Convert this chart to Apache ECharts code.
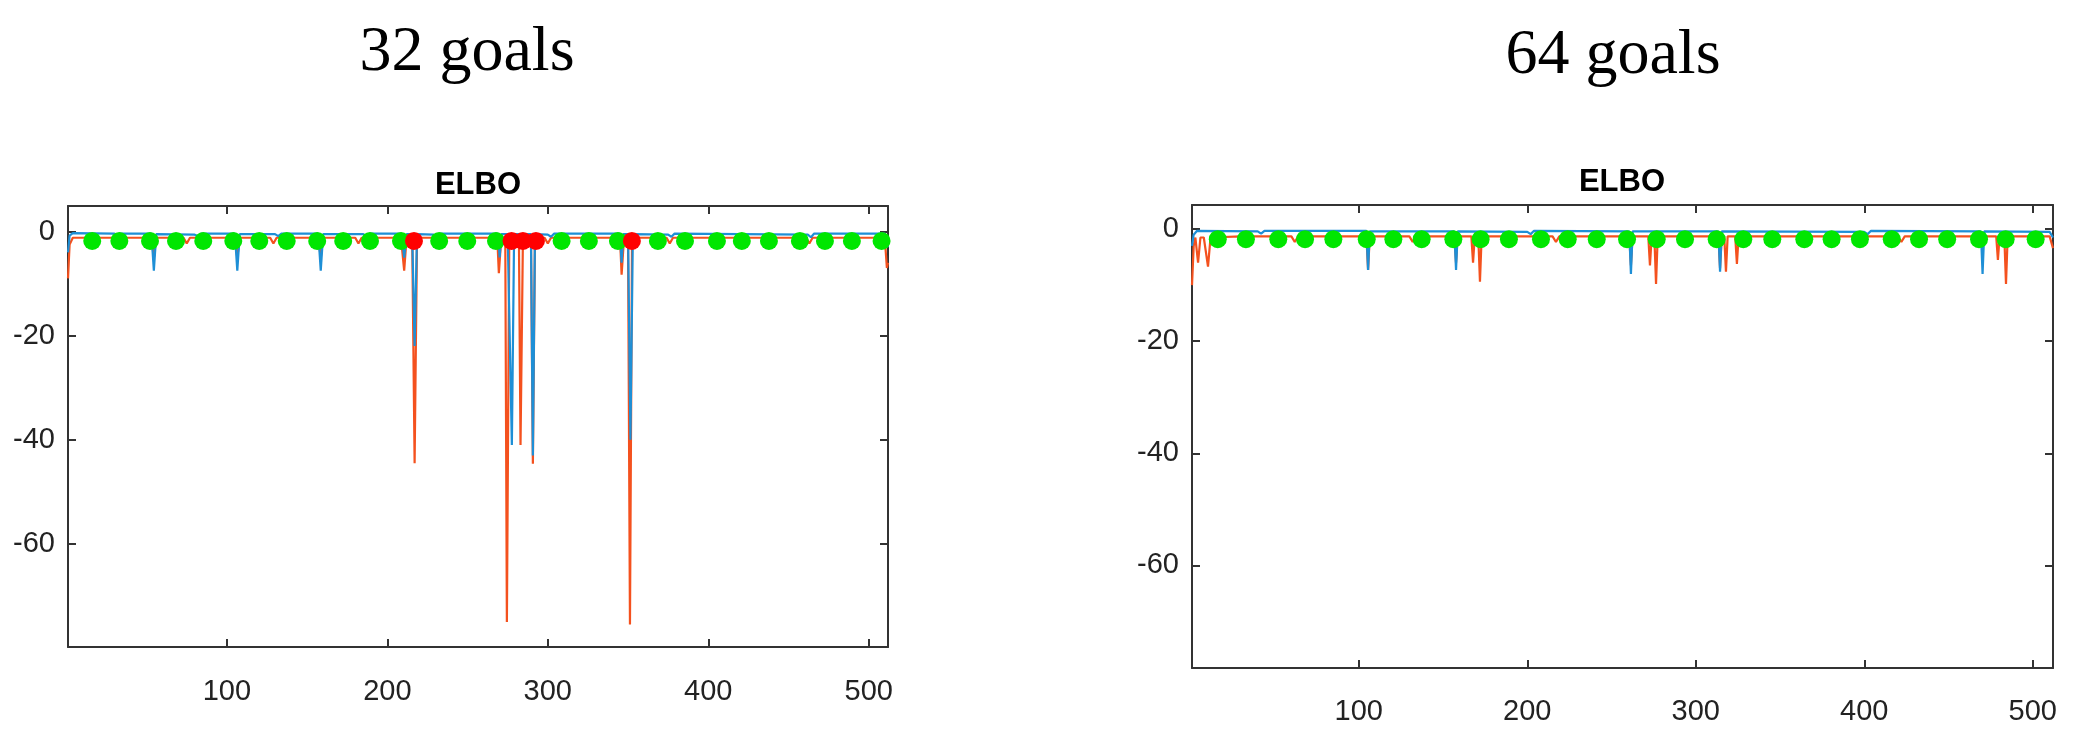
<!DOCTYPE html>
<html>
<head>
<meta charset="utf-8">
<script src="https://cdn.jsdelivr.net/npm/echarts@6/dist/echarts.min.js"></script>
<style>
html,body{margin:0;padding:0;background:#fff;}
#chart{width:2082px;height:750px;}
</style>
</head>
<body>
<div id="chart"></div>
<script>
// ---- data ----
const panelTitles = ['32 goals', '64 goals'];
const subTitle = 'ELBO';
const xTicks = [100, 200, 300, 400, 500];
const yTicks = [-60, -40, -20, 0];
const dotY = -1.8;

// 32 goals panel
const L_blue = [[1,-4],[2,-0.8],[4,-0.3],[30,-0.4],[31,-0.8],[33,-0.4],[53,-0.4],[54.5,-7.5],[56,-0.5],[80,-0.6],[82,-0.9],[84,-0.4],[105,-0.4],[106.5,-7.5],[108,-0.5],[130,-0.5],[132,-0.9],[134,-0.4],[157,-0.4],[158.5,-7.5],[160,-0.5],[185,-0.5],[187,-0.9],[189,-0.4],[209,-0.4],[210.5,-5],[212,-0.5],[215.5,-0.5],[217,-22],[218.5,-0.5],[229,-0.6],[231,-0.9],[233,-0.4],[269,-0.4],[270,-5],[271,-0.5],[275,-0.5],[277.6,-41],[279,-0.5],[289.5,-0.5],[290.7,-43],[292,-0.5],[300,-0.6],[302,-1.0],[304,-0.4],[345,-0.4],[346,-6],[347,-0.5],[350,-0.5],[351.5,-40],[353,-0.5],[375,-0.6],[377,-1.0],[379,-0.4],[462,-0.6],[464,-1.1],[466,-0.4],[510,-0.4],[512,-3]];
const L_orange = [[1,-9],[2,-2.5],[4,-1.2],[20,-1.2],[53,-1.2],[54.5,-5],[56,-1.2],[73,-1.2],[75,-2.3],[77,-1.2],[105,-1.2],[106.5,-5],[108,-1.2],[127,-1.2],[129,-2.3],[131,-1.2],[157,-1.2],[158.5,-5],[160,-1.2],[180,-1.2],[182,-2.3],[184,-1.2],[208.5,-1.2],[210.5,-7.5],[212,-1.2],[215.5,-1.2],[217,-44.5],[218.5,-1.2],[268.5,-1.2],[269.5,-8],[271,-1.2],[273.5,-1.2],[274.5,-75],[276,-1.2],[282,-1.2],[283,-41],[284.5,-1.2],[289.5,-1.2],[290.7,-44.6],[292,-1.2],[298,-1.2],[300,-2.3],[302,-1.2],[345,-1.2],[346,-8.3],[347.5,-1.2],[350,-1.2],[351.2,-75.5],[352.5,-1.2],[374,-1.2],[376,-2.3],[378,-1.2],[461,-1.2],[463,-2.3],[465,-1.2],[510,-1.2],[511.3,-7],[512,-6]];
const L_green = [16.1,33.0,52.1,68.3,85.3,104.0,120.2,137.3,156.3,172.5,189.2,208.5,232.3,249.8,267.7,308.6,325.6,343.7,368.6,385.5,405.4,420.9,437.8,457.1,472.7,489.5,508];
const L_red = [216.6,277.4,284.5,292.6,352.4];

// 64 goals panel
const R_blue = [[1,-3],[2,-1],[4,-0.3],[40,-0.4],[42,-0.8],[44,-0.3],[104.5,-0.3],[105.5,-7.3],[106.5,-0.4],[156.7,-0.4],[157.7,-7.3],[158.7,-0.4],[200,-0.5],[202,-0.9],[204,-0.3],[260.5,-0.4],[261.5,-8],[262.5,-0.4],[313.4,-0.4],[314.4,-7.6],[315.4,-0.4],[400,-0.5],[402,-0.9],[404,-0.3],[469.2,-0.4],[470.2,-8],[471.2,-0.4],[510,-0.5],[512,-1.5]];
const R_orange = [[1,-10],[2,-3],[3,-1.5],[4.6,-6],[6,-1.5],[8,-1.5],[10.5,-6.7],[12,-1.5],[30,-1.3],[32,-2.3],[34,-1.3],[60,-1.3],[62,-2.3],[64,-1.3],[104.5,-1.3],[105.5,-7.3],[106.5,-1.3],[130,-1.3],[132,-2.3],[134,-1.3],[156.7,-1.3],[157.7,-6],[158.7,-1.3],[166.8,-1.3],[167.8,-6],[168.8,-1.3],[170.9,-1.3],[171.9,-9.4],[172.9,-1.3],[215,-1.3],[217,-2.3],[219,-1.3],[260.5,-1.3],[261.5,-6.5],[262.5,-1.3],[271.8,-1.3],[272.8,-6.5],[273.8,-1.3],[275.4,-1.3],[276.4,-9.8],[277.4,-1.3],[313.4,-1.3],[314.4,-7],[315.4,-1.3],[316.9,-1.3],[317.9,-7.6],[318.9,-1.3],[323.4,-1.3],[324.4,-6.2],[325.4,-1.3],[360,-1.3],[362,-2.3],[364,-1.3],[420,-1.3],[422,-2.3],[424,-1.3],[478.3,-1.3],[479.3,-5.5],[480.3,-1.3],[483.1,-1.3],[484.1,-9.8],[485.1,-1.3],[510,-1.3],[512,-3.4]];
const R_green = [16.3,33.0,52.2,68.1,84.9,104.7,120.5,137.3,156.1,172.3,189.1,208.1,224.0,241.2,259.2,276.8,293.6,312.4,328.2,345.4,364.4,380.6,397.4,416.3,432.5,449.2,468.1,483.9,501.7];
const R_red = [];

// ---- chart ----
const axisColor = '#333333';
const labelFont = "'Liberation Sans', Arial, sans-serif";
const grids = [
  {left: 68, top: 206, width: 820, height: 441, ymin: -79.8, ymax: 4.9, xMargin: 30},
  {left: 1192, top: 205, width: 861, height: 463, ymin: -78.3, ymax: 4.3, xMargin: 29}
];
function xAx(gi, top) {
  return {
    type: 'value', gridIndex: gi, min: 1, max: 512, position: top ? 'top' : 'bottom',
    axisLine: {show: true, onZero: false, lineStyle: {color: axisColor, width: 2}},
    axisTick: {show: true, inside: true, length: 8, customValues: xTicks, lineStyle: {color: axisColor, width: 2}},
    axisLabel: {show: !top, customValues: xTicks, fontSize: 29, fontFamily: labelFont, color: '#222', margin: grids[gi].xMargin},
    splitLine: {show: false}
  };
}
function yAx(gi, right) {
  return {
    type: 'value', gridIndex: gi, min: grids[gi].ymin, max: grids[gi].ymax, position: right ? 'right' : 'left',
    axisLine: {show: true, onZero: false, lineStyle: {color: axisColor, width: 2}},
    axisTick: {show: true, inside: true, length: 8, customValues: yTicks, lineStyle: {color: axisColor, width: 2}},
    axisLabel: {show: !right, customValues: yTicks, fontSize: 29, fontFamily: labelFont, color: '#222', margin: 13},
    splitLine: {show: false}
  };
}
function lineS(idx, data, color, z) {
  return {type: 'line', xAxisIndex: idx * 2, yAxisIndex: idx * 2, data: data, showSymbol: false,
    lineStyle: {color: color, width: 2.2}, z: z, animation: false, silent: true};
}
function dotS(idx, xs, color) {
  return {type: 'scatter', xAxisIndex: idx * 2, yAxisIndex: idx * 2, data: xs.map(x => [x, dotY]),
    symbol: 'circle', symbolSize: 18, itemStyle: {color: color, opacity: 1}, z: 10, animation: false, silent: true};
}
const chart = echarts.init(document.getElementById('chart'), null, {renderer: 'canvas'});
chart.setOption({
  backgroundColor: '#ffffff',
  animation: false,
  title: [
    {text: panelTitles[0], left: 467, top: 21, textAlign: 'center', padding: 0,
     textStyle: {fontFamily: "'Liberation Serif', 'Times New Roman', serif", fontSize: 64, fontWeight: 'normal', color: '#000'}},
    {text: panelTitles[1], left: 1613, top: 24, textAlign: 'center', padding: 0,
     textStyle: {fontFamily: "'Liberation Serif', 'Times New Roman', serif", fontSize: 64, fontWeight: 'normal', color: '#000'}},
    {text: subTitle, left: 478, top: 170, textAlign: 'center', padding: 0,
     textStyle: {fontFamily: "'Liberation Sans', Arial, sans-serif", fontSize: 31, fontWeight: 'bold', color: '#000'}},
    {text: subTitle, left: 1622, top: 167, textAlign: 'center', padding: 0,
     textStyle: {fontFamily: "'Liberation Sans', Arial, sans-serif", fontSize: 31, fontWeight: 'bold', color: '#000'}}
  ],
  grid: grids.map(g => ({left: g.left, top: g.top, width: g.width, height: g.height, containLabel: false})),
  xAxis: [xAx(0, false), xAx(0, true), xAx(1, false), xAx(1, true)],
  yAxis: [yAx(0, false), yAx(0, true), yAx(1, false), yAx(1, true)],
  series: [
    lineS(0, L_orange, '#f4511e', 3),
    lineS(0, L_blue, '#1e8fd6', 4),
    dotS(0, L_green, '#00e600'),
    dotS(0, L_red, '#ff0000'),
    lineS(1, R_orange, '#f4511e', 3),
    lineS(1, R_blue, '#1e8fd6', 4),
    dotS(1, R_green, '#00e600'),
    dotS(1, R_red, '#ff0000')
  ]
});
</script>
</body>
</html>
